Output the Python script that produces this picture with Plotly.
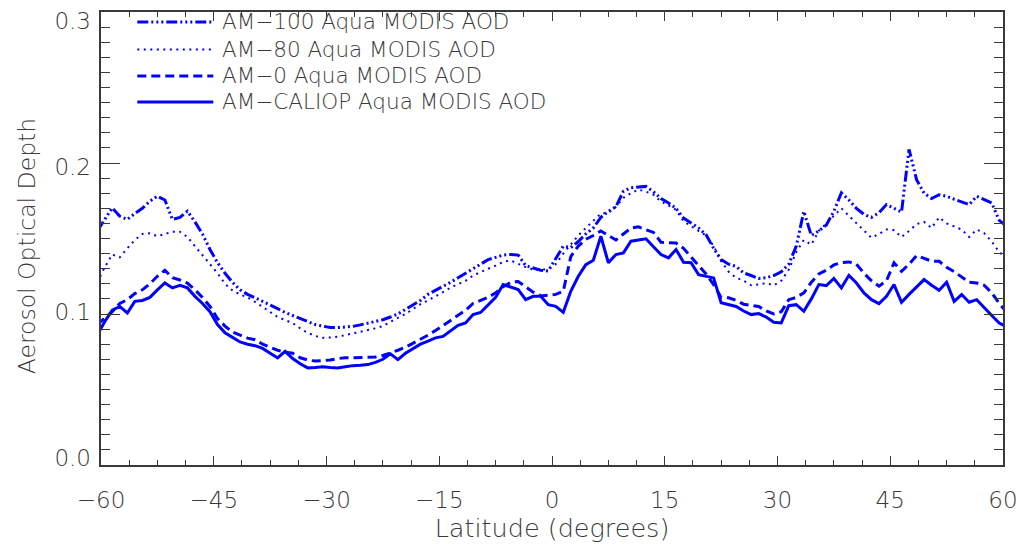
import numpy as np
import plotly.graph_objects as go

# 1-degree latitude bins (bin centres)
latitude = np.arange(-60.5, 61.0, 1.0)

series_names = [
    "AM\u2212100 Aqua MODIS AOD",
    "AM\u221280 Aqua MODIS AOD",
    "AM\u22120 Aqua MODIS AOD",
    "AM\u2212CALIOP Aqua MODIS AOD",
]

aod_am100 = [
    .155, .163, .1703, .1647, .1626, .1665, .170, .1747, .178, .1755,
    .1626, .164, .1681, .161, .153, .1427, .134, .127, .121, .116,
    .113, .1108, .1085, .106, .1035, .101, .099, .097, .0945, .093,
    .092, .091, .091, .0912, .0918, .0928, .0938, .095, .0962, .098,
    .100, .103, .106, .109, .113, .1155, .118, .121, .124, .127,
    .130, .1335, .136, .1375, .139, .1394, .139, .132, .1306, .129,
    .1285, .137, .1449, .144, .148, .153, .157, .164, .168, .171,
    .1813, .1836, .184, .1845, .181, .1765, .1735, .170, .1635, .160,
    .157, .1525, .1435, .136, .133, .1315, .1272, .1255, .1235, .124,
    .1255, .128, .133, .145, .168, .152, .155, .159, .168, .1803,
    .1755, .170, .166, .164, .167, .1725, .170, .1675, .209, .189,
    .180, .1765, .179, .178, .176, .1745, .1725, .178, .1755, .1735,
    .162, .158,
]

aod_am80 = [
    .121, .131, .1394, .1375, .1435, .149, .153, .1535, .1515, .153,
    .1545, .1545, .151, .1449, .139, .133, .127, .120, .1155, .113,
    .111, .108, .1045, .101, .098, .096, .094, .0905, .0875, .0855,
    .0842, .0845, .085, .086, .087, .0885, .089, .0905, .092, .095,
    .0975, .100, .1035, .1065, .109, .1115, .1145, .1175, .120, .122,
    .1255, .128, .130, .132, .1345, .1355, .133, .131, .1294, .129,
    .130, .133, .140, .146, .152, .157, .162, .1665, .167, .171,
    .1769, .180, .1824, .181, .179, .1745, .172, .169, .1614, .158,
    .155, .152, .145, .135, .128, .124, .122, .119, .1195, .1205,
    .119, .122, .1294, .141, .149, .146, .155, .160, .165, .170,
    .165, .160, .1555, .1505, .153, .156, .1555, .151, .155, .1595,
    .161, .157, .164, .160, .158, .1559, .151, .156, .1535, .148,
    .141, .137,
]

aod_am0 = [
    .093, .097, .1015, .107, .1095, .1135, .116, .120, .125, .129,
    .124, .1225, .1205, .116, .111, .105, .097, .092, .088, .086,
    .084, .083, .080, .078, .076, .0748, .074, .071, .0695, .0688,
    .069, .0695, .0705, .071, .071, .071, .071, .0715, .0725, .074,
    .076, .078, .0805, .083, .086, .089, .0925, .0955, .099, .1025,
    .107, .109, .111, .114, .118, .121, .1215, .118, .1145, .112,
    .1125, .113, .115, .138, .145, .1495, .152, .155, .152, .149,
    .153, .157, .1577, .156, .154, .1475, .147, .147, .1435, .138,
    .132, .1265, .1195, .111, .1107, .109, .1065, .1055, .105, .102,
    .100, .1015, .1095, .111, .114, .121, .1265, .129, .1325, .134,
    .1345, .133, .127, .122, .1184, .122, .1339, .1283, .133, .1387,
    .137, .135, .1349, .131, .128, .1245, .121, .1205, .119, .114,
    .107, .101,
]

aod_caliop = [
    .086, .095, .1025, .105, .1007, .1084, .109, .111, .116, .1206,
    .1173, .119, .1173, .1117, .107, .1015, .093, .0875, .0845, .0815,
    .080, .079, .0772, .074, .0709, .0753, .0705, .067, .0643, .0645,
    .065, .0645, .0643, .065, .0658, .066, .0665, .068, .070, .0736,
    .0698, .074, .077, .080, .082, .0842, .0852, .089, .0925, .094,
    .0996, .101, .1062, .111, .1195, .118, .1162, .1095, .1117, .1117,
    .1062, .1051, .1011, .115, .125, .1327, .1356, .1515, .1339, .1394,
    .1405, .1482, .149, .1498, .1445, .1394, .1372, .1427, .1343, .134,
    .1261, .125, .1239, .1074, .106, .105, .102, .0996, .1003, .098,
    .0945, .0941, .1055, .1062, .1018, .110, .1195, .1188, .1235, .1173,
    .1256, .1205, .114, .1095, .1069, .1117, .1195, .1078, .113, .118,
    .1228, .119, .1157, .121, .1084, .1129, .1078, .1095, .104, .099,
    .094, .0915,
]

x_ticks = [-60, -45, -30, -15, 0, 15, 30, 45, 60]
x_minor = list(np.arange(-60, 60.01, 3.75))
y_ticks = [0.0, 0.1, 0.2, 0.3]
y_ticktext = ["0.0", "0.1", "0.2", "0.3"]

BLUE = "#0000ff"
INK = "#3a3a3a"
FONT = dict(family="DejaVu Sans", size=23, color=INK, weight=300)

styles = [
    dict(dash="11px,3px,2px,3px,2px,3px,2px,3px", width=3),
    dict(dash="2px,4.5px", width=2),
    dict(dash="9px,5px", width=3),
    dict(dash="solid", width=3),
]
values = [aod_am100, aod_am80, aod_am0, aod_caliop]

fig = go.Figure()
for name, vals, st in zip(series_names, values, styles):
    fig.add_trace(go.Scatter(
        x=latitude, y=vals, mode="lines", name=name, showlegend=False,
        line=dict(color=BLUE, width=st["width"], dash=st["dash"]),
    ))
# empty trace that attaches the labelling axes
fig.add_trace(go.Scatter(x=[], y=[], xaxis="x2", yaxis="y2",
                         showlegend=False, hoverinfo="skip"))

# Plot frame in pixels
L, R, T, B = 100.7, 1002.7, 12.0, 465.3
def px_x(p):
    return (p - L) / (R - L)
def px_y(p):
    return (B - p) / (B - T)

# Hand-drawn key in the upper-left corner of the plot
key_rows = [22, 49.5, 76, 102]
shapes = []
annotations = []
for name, st, row in zip(series_names, styles, key_rows):
    shapes.append(dict(
        type="line", xref="paper", yref="paper",
        x0=px_x(137), x1=px_x(213), y0=px_y(row), y1=px_y(row),
        line=dict(color=BLUE, width=st["width"], dash=st["dash"]),
    ))
    annotations.append(dict(
        text=name, xref="paper", yref="paper", x=px_x(220), y=px_y(row),
        xanchor="left", yanchor="middle", showarrow=False,
        font=dict(FONT, size=21.5),
    ))

# vertical axis title
annotations.append(dict(
    text="Aerosol Optical Depth", xref="paper", yref="paper",
    x=px_x(27), y=px_y(246), xanchor="center", yanchor="middle",
    textangle=-90, showarrow=False, font=dict(FONT, size=23.5),
))

frame = dict(
    showgrid=False, zeroline=False, showline=True, linecolor=INK,
    linewidth=1.5, mirror="ticks", ticks="inside", tickwidth=1.2,
    tickcolor=INK, showticklabels=False, automargin=False,
)
labels_only = dict(
    showgrid=False, zeroline=False, tickfont=FONT, automargin=False,
)

fig.update_layout(
    width=1024, height=544,
    margin=dict(l=L, r=1024 - R, t=T, b=544 - B, autoexpand=False),
    paper_bgcolor="white", plot_bgcolor="white",
    shapes=shapes, annotations=annotations,
    # axes carrying the data, frame and tick marks
    xaxis=dict(
        frame, range=[-60, 60], tickmode="array", tickvals=x_ticks,
        ticklen=9,
        minor=dict(tickmode="array", tickvals=x_minor, ticks="inside",
                   ticklen=5, tickcolor=INK, tickwidth=1.2),
    ),
    yaxis=dict(
        frame, range=[0, 0.3], tickmode="linear", tick0=0, dtick=0.1,
        ticklen=19,
        minor=dict(tick0=0, dtick=0.01, ticks="inside", ticklen=9.5,
                   tickcolor=INK, tickwidth=1),
    ),
    # companion axes carrying the value labels
    xaxis2=dict(
        labels_only, overlaying="x", side="bottom", range=[-60, 60],
        tickmode="array", tickvals=x_ticks, ticklabelstandoff=14,
        showline=True, linecolor=INK, linewidth=1.5, mirror="ticks",
        ticks="inside", ticklen=9, tickwidth=1.2, tickcolor=INK,
        minor=dict(tickmode="array", tickvals=x_minor, ticks="inside",
                   ticklen=5, tickcolor=INK, tickwidth=1.2),
        title=dict(text="Latitude (degrees)", font=dict(FONT, size=25.5),
                   standoff=5),
    ),
    yaxis2=dict(
        labels_only, overlaying="y", side="left", range=[-0.0048, 0.3063],
        tickmode="array", tickvals=y_ticks, ticktext=y_ticktext,
        showline=False, ticks="", ticklabelstandoff=9,
    ),
)

fig.write_html("out.html")
